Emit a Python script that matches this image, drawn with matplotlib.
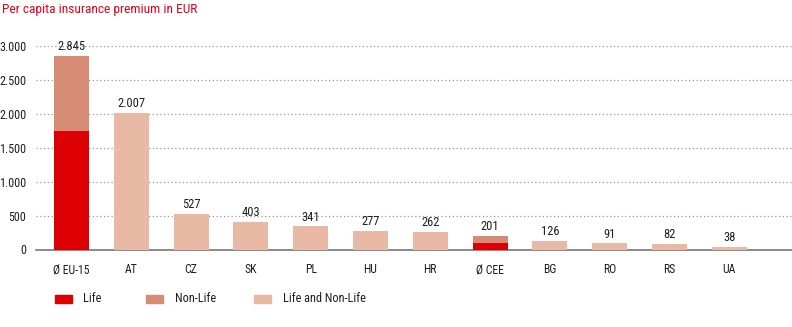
import matplotlib
matplotlib.use("Agg")
import matplotlib.pyplot as plt
from matplotlib import font_manager as fm
from matplotlib.patches import Rectangle

names = {f.name for f in fm.fontManager.ttflist}
FONT = "DejaVu Sans"
for cand in ["Roboto Condensed", "Archivo Narrow", "Liberation Sans Narrow", "Barlow Semi Condensed"]:
    if cand in names:
        FONT = cand
        break
plt.rcParams['font.family'] = [FONT, 'DejaVu Sans']

categories = ["Ø EU-15", "AT", "CZ", "SK", "PL", "HU", "HR", "Ø CEE", "BG", "RO", "RS", "UA"]
totals = [2845, 2007, 527, 403, 341, 277, 262, 201, 126, 91, 82, 38]
life = {"Ø EU-15": 1750, "Ø CEE": 92}
nonlife = {"Ø EU-15": 1095, "Ø CEE": 109}
yticks = [0, 500, 1000, 1500, 2000, 2500, 3000]
ytick_labels = ["0", "500", "1.000", "1.500", "2.000", "2.500", "3.000"]

C_LIFE = "#DC0005"
C_NON = "#D68C74"
C_BOTH = "#E8B9A5"
TXT = "#1e1e1e"

W, H = 792, 327
fig = plt.figure(figsize=(W/100, H/100), dpi=100)
ax = fig.add_axes([36/W, 1-249.5/H, (792-36)/W, (249.5-45.5)/H])

x = list(range(len(categories)))
bw = 0.585
for i, c in enumerate(categories):
    if c in life:
        ax.bar(i, life[c], width=bw, color=C_LIFE, zorder=3)
        ax.bar(i, nonlife[c], bottom=life[c], width=bw, color=C_NON, zorder=3)
    else:
        ax.bar(i, totals[i], width=bw, color=C_BOTH, zorder=3)
    ax.text(i, totals[i] + 40, f"{totals[i]:,}".replace(",", "."), ha="center", va="bottom",
            fontsize=9, color=TXT)

ax.set_xlim(-0.594, 12.05)
ax.set_ylim(0, 3000)
ax.set_yticks(yticks)
ax.set_yticklabels(ytick_labels, fontsize=8.7, color=TXT)
ax.set_xticks(x)
ax.set_xticklabels(categories, fontsize=8.5, color=TXT)
ax.tick_params(axis="both", length=0)
ax.tick_params(axis="y", pad=7)
ax.tick_params(axis="x", pad=10)
ax.yaxis.grid(True, linestyle=(0, (1, 2)), color="#999999", linewidth=0.9, zorder=0)
for i, t in enumerate(ax.yaxis.get_gridlines()):
    if i == 0:
        t.set_visible(False)
for s in ["top", "right", "left"]:
    ax.spines[s].set_visible(False)
ax.spines["bottom"].set_color("#777777")
ax.spines["bottom"].set_linewidth(1.2)
ax.set_axisbelow(True)

fig.text(2/W, 1-10/H, "Per capita insurance premium in EUR", color="#E2001A",
         fontsize=9.6, ha="left", va="center")

legend = [("Life", C_LIFE, 55, 83), ("Non-Life", C_NON, 146, 175), ("Life and Non-Life", C_BOTH, 254, 283)]
ly = 299
for lab, col, px, tx in legend:
    fig.patches.append(Rectangle((px/W, 1-(ly+4)/H), 17/W, 8/H, transform=fig.transFigure,
                                 color=col, figure=fig))
    fig.text(tx/W, 1-ly/H, lab, fontsize=8.8, color=TXT, ha="left", va="center")

fig.savefig("out.png", dpi=100)
